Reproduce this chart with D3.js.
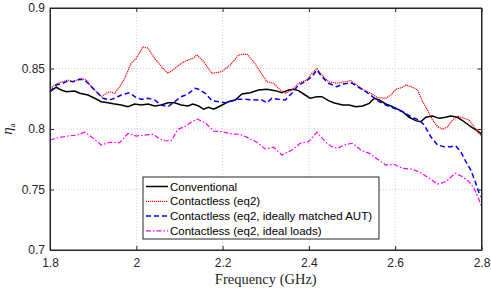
<!DOCTYPE html>
<head>
  <meta charset="utf-8">
  <script src="https://d3js.org/d3.v7.min.js"></script>
  <style>
body {
	margin:0;
	background:#fff;
	}
.axis text {
	font-family: "Liberation Sans", Arial, Helvetica, sans-serif;
	font-size: 12px;
	fill: #262626;
	}
.legText {
	font-family: "Liberation Sans", Arial, Helvetica, sans-serif;
	font-size: 11.5px;
	fill: #000;
	}
  </style>
</head>

<body>
  <div id="graph"></div>
<script>
// Tick values
var xTicks = [1.8, 2.0, 2.2, 2.4, 2.6, 2.8];
var yTicks = [0.7, 0.75, 0.8, 0.85, 0.9];

// Series names
var seriesNames = ["Conventional", "Contactless (eq2)",
  "Contactless (eq2, ideally matched AUT)", "Contactless (eq2, ideal loads)"];

// Conventional (black)
var convF = [1.8,1.8146,1.8262,1.8378,1.8572,1.8688,1.888,1.9035,1.9188,1.9344,1.9499,1.9652,1.9807,1.9962,2.0115,2.027,2.0425,2.0578,2.0734,2.0889,2.1042,2.1197,2.1313,2.1445,2.156,2.1676,2.1792,2.1945,2.214,2.2293,2.2448,2.264,2.2835,2.3027,2.3219,2.3374,2.353,2.3645,2.3761,2.3914,2.403,2.4185,2.4301,2.4456,2.4572,2.478,2.4933,2.5088,2.5244,2.5397,2.5513,2.5628,2.5783,2.5976,2.617,2.6323,2.6478,2.6594,2.671,2.6865,2.7018,2.7173,2.7289,2.7444,2.7597,2.7753,2.7868,2.8];
var convV = [0.8308,0.8345,0.8322,0.8308,0.8314,0.8295,0.8281,0.8254,0.8226,0.8217,0.8207,0.8198,0.8184,0.8207,0.8198,0.8207,0.819,0.8198,0.8217,0.8217,0.8198,0.819,0.8207,0.819,0.8163,0.8179,0.8163,0.819,0.8226,0.824,0.8289,0.83,0.8322,0.8328,0.8317,0.83,0.8322,0.8328,0.8317,0.8281,0.8254,0.8267,0.8267,0.8234,0.8217,0.8198,0.8198,0.8184,0.819,0.8212,0.8254,0.824,0.8207,0.8179,0.8143,0.8097,0.8069,0.806,0.8097,0.8107,0.8088,0.8097,0.8107,0.8097,0.806,0.8019,0.7992,0.7959];

// Contactless eq2 (red)
var eq2F = [1.8,1.8185,1.8417,1.8533,1.8725,1.8841,1.8957,1.9112,1.9188,1.9304,1.9383,1.9499,1.9615,1.973,1.9883,1.9999,2.0154,2.027,2.0425,2.0618,2.0734,2.0849,2.1042,2.1197,2.1313,2.1405,2.156,2.1753,2.1984,2.2177,2.2371,2.2564,2.2719,2.2872,2.3027,2.3182,2.3335,2.3451,2.3606,2.3761,2.3953,2.4069,2.4185,2.4301,2.4456,2.4648,2.4973,2.5244,2.5436,2.5591,2.5783,2.5899,2.6015,2.617,2.6247,2.6402,2.6518,2.6634,2.6749,2.6865,2.6981,2.7097,2.7213,2.7329,2.7444,2.7597,2.7713,2.7829,2.7908,2.8];
var eq2V = [0.8336,0.8378,0.8405,0.8391,0.8419,0.8405,0.835,0.8295,0.8267,0.8295,0.8308,0.8295,0.835,0.8419,0.8543,0.8584,0.868,0.8667,0.8584,0.8502,0.846,0.8488,0.8543,0.857,0.8584,0.8612,0.8556,0.846,0.8474,0.8529,0.8612,0.862,0.8556,0.8474,0.8391,0.8378,0.8322,0.8295,0.8322,0.8378,0.8405,0.846,0.8502,0.8446,0.8391,0.8378,0.8399,0.8328,0.8295,0.8259,0.8254,0.8281,0.8328,0.8345,0.8364,0.8345,0.8322,0.8226,0.8157,0.8074,0.8019,0.7998,0.8019,0.8074,0.8107,0.8088,0.8074,0.8019,0.7978,0.7942];

// Contactless eq2, ideally matched AUT (blue)
var matchF = [1.8,1.8146,1.8301,1.8417,1.8533,1.8688,1.8804,1.8957,1.9112,1.9228,1.9383,1.9499,1.9652,1.9846,1.9962,2.0115,2.027,2.0425,2.0578,2.0734,2.0889,2.1042,2.1197,2.1359,2.1445,2.1598,2.1753,2.1908,2.2061,2.2216,2.2371,2.2524,2.2756,2.2911,2.3027,2.3143,2.3298,2.3451,2.3606,2.3761,2.3914,2.4069,2.4185,2.4301,2.4456,2.4648,2.4803,2.4973,2.5128,2.532,2.5475,2.5628,2.5783,2.5976,2.617,2.6363,2.6555,2.6671,2.6826,2.6981,2.7134,2.7289,2.7405,2.7521,2.7637,2.7753,2.7868,2.7945,2.8];
var matchV = [0.8308,0.8364,0.8378,0.8399,0.8391,0.8411,0.8405,0.835,0.8295,0.8254,0.824,0.8254,0.8281,0.83,0.8267,0.8245,0.8254,0.824,0.8198,0.8184,0.8226,0.8267,0.8289,0.8336,0.8328,0.8295,0.8234,0.8226,0.8217,0.8234,0.8245,0.8245,0.824,0.824,0.8217,0.8254,0.8245,0.824,0.8295,0.8364,0.8391,0.8432,0.8488,0.8432,0.8378,0.835,0.8372,0.8383,0.835,0.8308,0.8267,0.8226,0.8198,0.8171,0.8143,0.8102,0.8074,0.8033,0.7936,0.7868,0.7854,0.7854,0.786,0.7812,0.773,0.7661,0.7551,0.7469,0.7438];

// Contactless eq2, ideal loads (magenta)
var loadsF = [1.8,1.8185,1.8417,1.8609,1.8804,1.8957,1.9188,1.9383,1.9615,1.9807,1.9999,2.0194,2.0386,2.0618,2.081,2.0965,2.112,2.1289,2.1405,2.1598,2.1792,2.1984,2.2216,2.2408,2.2564,2.2795,2.2987,2.3182,2.3374,2.3606,2.3798,2.3993,2.4185,2.4377,2.4533,2.4665,2.4817,2.5012,2.5204,2.5397,2.5591,2.5783,2.5976,2.617,2.6402,2.6594,2.6786,2.6981,2.7173,2.7389,2.756,2.7713,2.7829,2.7945,2.8];
var loadsV = [0.7909,0.7928,0.7942,0.795,0.7973,0.7936,0.7868,0.789,0.7887,0.7964,0.7942,0.795,0.7956,0.7903,0.7903,0.7998,0.8019,0.806,0.8083,0.8052,0.7983,0.7978,0.7959,0.7956,0.7931,0.789,0.7835,0.7849,0.7785,0.7826,0.7882,0.7895,0.7973,0.7895,0.7854,0.7841,0.7868,0.7882,0.7826,0.7799,0.775,0.7702,0.7708,0.7675,0.7667,0.7639,0.7593,0.7545,0.7564,0.7634,0.7606,0.7564,0.751,0.7413,0.7358];

// Set the margins
var W = 491, H = 289;
var margin = {top: 8, right: 9.5, bottom: 39, left: 50},
  width = W - margin.left - margin.right,
  height = H - margin.top - margin.bottom;

var x = d3.scaleLinear().domain([1.8, 2.8]).range([0, width]);
var y = d3.scaleLinear().domain([0.7, 0.9]).range([height, 0]);

var svg = d3.select("#graph")
        .append("svg")
        .attr("width", W)
        .attr("height", H)
        .append("g")
        .attr("transform", "translate(" + margin.left + "," + margin.top + ")");

// Grid lines
svg.selectAll(".gx")
    .data(xTicks.slice(1, -1))
    .enter().append("line")
      .attr("x1", function(d) { return x(d); })
      .attr("x2", function(d) { return x(d); })
      .attr("y1", 0).attr("y2", height)
      .style("stroke", "#d0d0d0")
      .style("stroke-dasharray", "1,2");
svg.selectAll(".gy")
    .data(yTicks.slice(1, -1))
    .enter().append("line")
      .attr("y1", function(d) { return y(d); })
      .attr("y2", function(d) { return y(d); })
      .attr("x1", 0).attr("x2", width)
      .style("stroke", "#d0d0d0")
      .style("stroke-dasharray", "1,2");

// Series
var series = [
  {f: convF, v: convV, color: "#000000", w: 1.5, dash: null},
  {f: eq2F, v: eq2V, color: "#ff0000", w: 1.2, dash: "1.2,0.8"},
  {f: matchF, v: matchV, color: "#0000ff", w: 1.5, dash: "5,3"},
  {f: loadsF, v: loadsV, color: "#ff00ff", w: 1.2, dash: "5,2,1.5,2"}
];

var line = d3.line()
    .x(function(d) { return x(d[0]); })
    .y(function(d) { return y(d[1]); });

series.forEach(function(s) {
  svg.append("path")
      .datum(d3.zip(s.f, s.v))
      .attr("d", line)
      .style("fill", "none")
      .style("stroke", s.color)
      .style("stroke-width", s.w)
      .style("stroke-dasharray", s.dash);
});

// Axes (ticks pointing inward)
svg.append("g")
    .attr("class", "axis")
    .attr("transform", "translate(0," + height + ")")
    .call(d3.axisBottom(x).tickValues(xTicks).tickFormat(d3.format("~g"))
      .tickSizeInner(-4).tickSizeOuter(0).tickPadding(8.5));
svg.append("g")
    .attr("class", "axis")
    .call(d3.axisLeft(y).tickValues(yTicks).tickFormat(d3.format("~g"))
      .tickSizeInner(-4).tickSizeOuter(0).tickPadding(5));
svg.append("g")
    .attr("class", "axis")
    .call(d3.axisTop(x).tickValues(xTicks).tickFormat("")
      .tickSizeInner(-4).tickSizeOuter(0));
svg.append("g")
    .attr("class", "axis")
    .attr("transform", "translate(" + width + ",0)")
    .call(d3.axisRight(y).tickValues(yTicks).tickFormat("")
      .tickSizeInner(-4).tickSizeOuter(0));
svg.selectAll(".axis path, .axis line").style("stroke", "#262626");

svg.append("rect")
    .attr("width", width).attr("height", height)
    .style("fill", "none")
    .style("stroke", "#262626")
    .style("stroke-width", 1);

// Axis labels
svg.append("text")
    .attr("x", width / 2)
    .attr("y", height + 34)
    .style("text-anchor", "middle")
    .style("font-family", "'Liberation Serif', 'Times New Roman', serif")
    .style("font-size", "14.5px")
    .style("fill", "#262626")
    .text("Frequency (GHz)");

var yl = svg.append("text")
    .attr("transform", "translate(" + (12 - margin.left) + "," + (height / 2) + ") rotate(-90)")
    .style("text-anchor", "middle")
    .style("font-family", "'Liberation Serif', 'Times New Roman', serif")
    .style("font-size", "15px")
    .style("fill", "#262626");
yl.append("tspan").style("font-style", "italic").text("η");
yl.append("tspan").attr("dy", 3).style("font-size", "9px").text("a");

// Legend
var leg = svg.append("g").attr("transform", "translate(" + (143 - margin.left) + "," + (177 - margin.top) + ")");
leg.append("rect")
    .attr("width", 236).attr("height", 62)
    .style("fill", "#fff")
    .style("stroke", "#262626")
    .style("stroke-width", 1);
series.forEach(function(s, i) {
  var yy = 9.5 + i * 14.8;
  leg.append("line")
      .attr("x1", 3).attr("x2", 25)
      .attr("y1", yy).attr("y2", yy)
      .style("stroke", s.color)
      .style("stroke-width", s.w)
      .style("stroke-dasharray", s.dash);
  leg.append("text")
      .attr("class", "legText")
      .attr("x", 27)
      .attr("y", yy)
      .attr("dy", "0.35em")
      .text(seriesNames[i]);
});
</script>
</body>
